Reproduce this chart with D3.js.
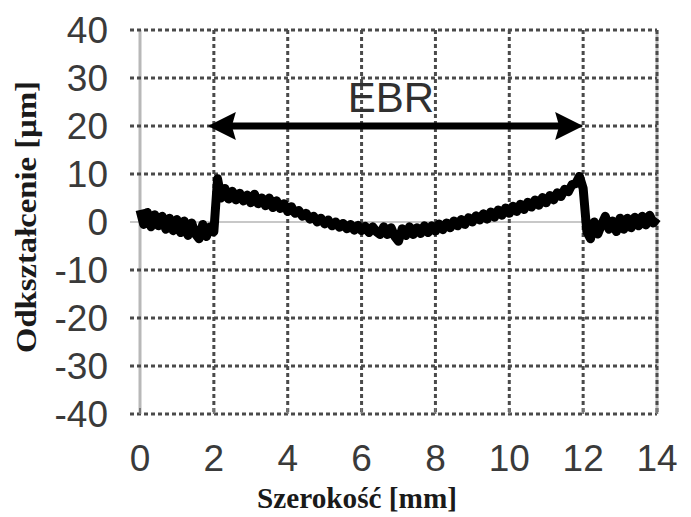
<!DOCTYPE html>
<html>
<head>
<meta charset="utf-8">
<script src="https://cdn.jsdelivr.net/npm/d3@7"></script>
<style>
    body { margin: 0; background: #fff; }
    svg { display: block; }
    .tick-label { font-family: "Liberation Sans", Arial, sans-serif; fill: #3a3a3a; }
    .axis-title { font-family: "Liberation Serif", "Times New Roman", serif; font-weight: bold; fill: #1a1a1a; }
</style>
</head>
<body>
<svg id="chart" width="691" height="517"></svg>
<script>
// x ticks (mm) and y ticks (um)
var xTicks = [0, 2, 4, 6, 8, 10, 12, 14];
var yTicks = [40, 30, 20, 10, 0, -10, -20, -30, -40];

var profileStep = 0.1;
var profile = [
    2.5, -0.5, 2.0, -1.0, 1.5, -0.8, 1.2, -1.5, 0.8, -1.8,
    0.5, -2.2, 0.2, -2.8, -0.2, -2.5, -3.5, -0.5, -3.0, -1.0,
    -2.0, 9.0, 5.0, 7.0, 4.8, 6.4, 4.6, 6.0, 4.4, 5.6,
    4.0, 5.8, 3.8, 5.0, 3.4, 5.0, 3.0, 4.4, 2.8, 3.8,
    2.2, 3.2, 1.8, 2.4, 1.2, 1.8, 0.6, 1.2, 0.0, 0.8,
    -0.4, 0.4, -0.8, 0.0, -1.1, -0.3, -1.4, -0.5, -1.7, -0.7,
    -1.8, -0.9, -2.2, -1.0, -2.0, -2.6, -1.0, -2.6, -1.2, -3.0,
    -4.0, -1.4, -2.8, -1.0, -2.6, -1.2, -2.4, -0.8, -2.2, -0.8,
    -1.9, -0.4, -1.6, -0.2, -1.2, 0.2, -0.8, 0.5, -0.5, 0.9,
    0.0, 1.3, 0.4, 1.7, 0.6, 2.1, 1.0, 2.5, 1.4, 2.9,
    1.8, 3.3, 2.2, 3.7, 2.6, 4.1, 3.1, 4.6, 3.5, 5.1,
    4.0, 5.5, 4.6, 6.1, 5.3, 6.8, 6.3, 7.8, 8.0, 9.5,
    7.0, -2.0, -3.5, 0.0, -2.5, -0.5, 1.2, -1.5, 0.2, -2.0,
    0.8, -1.5, 0.8, -1.2, 1.0, -0.8, 1.2, -0.6, 1.4, -0.2,
    0.8
];

// EBR region marker
var ebrRange = [2, 12];
var ebrLevel = 20;
var ebrLabel = "EBR";

var svg = d3.select("#chart");
var plot = { left: 140, right: 657, top: 30, bottom: 414 };

var x = d3.scaleLinear().domain([0, 14]).range([plot.left, plot.right]);
var y = d3.scaleLinear().domain([-40, 40]).range([plot.bottom, plot.top]);

var grid = svg.append("g").attr("class", "grid");

// zero line (light, solid)
grid.append("line")
    .attr("x1", plot.left - 10).attr("x2", plot.right)
    .attr("y1", y(0)).attr("y2", y(0))
    .attr("stroke", "#c8c8c8").attr("stroke-width", 2);

// left axis and right border, light solid
grid.append("line")
    .attr("x1", plot.left).attr("x2", plot.left)
    .attr("y1", plot.top).attr("y2", plot.bottom)
    .attr("stroke", "#b8b8b8").attr("stroke-width", 3);
grid.append("line")
    .attr("x1", plot.right).attr("x2", plot.right)
    .attr("y1", plot.top).attr("y2", plot.bottom)
    .attr("stroke", "#c0c0c0").attr("stroke-width", 3);

// horizontal dashed gridlines (run a bit left of the axis as ticks)
grid.selectAll("line.h").data(yTicks.filter(function (d) { return d !== 0; }))
    .enter().append("line").attr("class", "h")
    .attr("x1", plot.left - 10).attr("x2", plot.right)
    .attr("y1", function (d) { return y(d); })
    .attr("y2", function (d) { return y(d); })
    .attr("stroke", "#4a4a4a").attr("stroke-width", 3)
    .attr("stroke-dasharray", "4,3");

// vertical dashed gridlines
grid.selectAll("line.v").data(xTicks.filter(function (d) { return d > 0; }))
    .enter().append("line").attr("class", "v")
    .attr("x1", function (d) { return x(d); })
    .attr("x2", function (d) { return x(d); })
    .attr("y1", plot.top).attr("y2", plot.bottom)
    .attr("stroke", "#4a4a4a").attr("stroke-width", 3)
    .attr("stroke-dasharray", "4,3");

// small upward ticks on the bottom edge
grid.selectAll("line.xt").data(xTicks)
    .enter().append("line").attr("class", "xt")
    .attr("x1", function (d) { return x(d); })
    .attr("x2", function (d) { return x(d); })
    .attr("y1", plot.bottom - 6).attr("y2", plot.bottom)
    .attr("stroke", "#777").attr("stroke-width", 2);

// tick labels
svg.append("g").selectAll("text").data(yTicks).enter().append("text")
    .attr("class", "tick-label")
    .attr("x", 108)
    .attr("y", function (d) { return y(d); })
    .attr("dy", "0.36em")
    .attr("text-anchor", "end")
    .style("font-size", "37px")
    .text(function (d) { return d; });

svg.append("g").selectAll("text").data(xTicks).enter().append("text")
    .attr("class", "tick-label")
    .attr("x", function (d) { return x(d); })
    .attr("y", 471)
    .attr("text-anchor", "middle")
    .style("font-size", "37px")
    .text(function (d) { return d; });

// profile line
var line = d3.line()
    .x(function (d, i) { return x(i * profileStep); })
    .y(function (d) { return y(d); });

svg.append("path")
    .datum(profile)
    .attr("d", line)
    .attr("fill", "none")
    .attr("stroke", "#000")
    .attr("stroke-width", 9)
    .attr("stroke-linejoin", "round");

// EBR double arrow
var arrow = svg.append("g");
var ay = y(ebrLevel), ax1 = x(ebrRange[0]) - 6, ax2 = x(ebrRange[1]);
arrow.append("line")
    .attr("x1", ax1 + 20).attr("x2", ax2 - 20)
    .attr("y1", ay).attr("y2", ay)
    .attr("stroke", "#000").attr("stroke-width", 7);
arrow.append("path")
    .attr("d", "M" + ax1 + "," + ay + " L" + (ax1 + 28) + "," + (ay - 14) +
        " L" + (ax1 + 24) + "," + ay + " L" + (ax1 + 28) + "," + (ay + 14) + "Z")
    .attr("fill", "#000");
arrow.append("path")
    .attr("d", "M" + ax2 + "," + ay + " L" + (ax2 - 28) + "," + (ay - 14) +
        " L" + (ax2 - 24) + "," + ay + " L" + (ax2 - 28) + "," + (ay + 14) + "Z")
    .attr("fill", "#000");
arrow.append("text")
    .attr("x", 391).attr("y", 112)
    .attr("text-anchor", "middle")
    .style("font-family", "'Liberation Sans', Arial, sans-serif")
    .style("font-size", "42px")
    .attr("fill", "#303030")
    .text(ebrLabel);

// axis titles
svg.append("text")
    .attr("class", "axis-title")
    .attr("x", 357).attr("y", 508)
    .attr("text-anchor", "middle")
    .attr("textLength", 200)
    .attr("lengthAdjust", "spacingAndGlyphs")
    .style("font-size", "29px")
    .text("Szerokość [mm]");

svg.append("text")
    .attr("class", "axis-title")
    .attr("transform", "translate(36,217) rotate(-90)")
    .attr("text-anchor", "middle")
    .attr("textLength", 272)
    .attr("lengthAdjust", "spacingAndGlyphs")
    .style("font-size", "29px")
    .text("Odkształcenie [µm]");
</script>
</body>
</html>
